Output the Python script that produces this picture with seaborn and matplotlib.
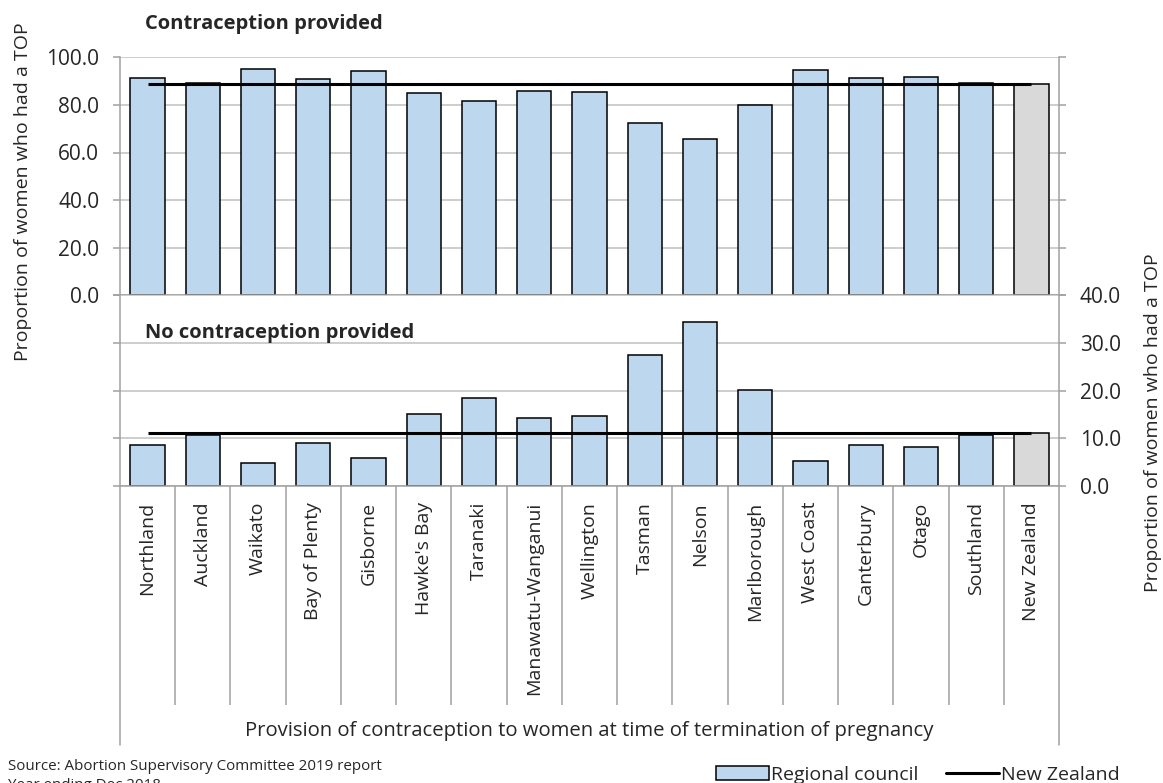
import numpy as np
import pandas as pd
import matplotlib
matplotlib.use("Agg")
import matplotlib.pyplot as plt
from matplotlib.patches import Patch
from matplotlib.lines import Line2D
import seaborn as sns

# Data
regions = ['Northland', 'Auckland', 'Waikato', 'Bay of Plenty', 'Gisborne',
           "Hawke's Bay", 'Taranaki', 'Manawatu-Wanganui', 'Wellington',
           'Tasman', 'Nelson', 'Marlborough', 'West Coast', 'Canterbury',
           'Otago', 'Southland', 'New Zealand']
provided = [91.3, 89.2, 95.1, 90.9, 94.1, 85.0, 81.6, 85.7, 85.3,
            72.5, 65.7, 79.8, 94.8, 91.3, 91.9, 89.2, 88.8]
not_provided = [8.7, 10.8, 4.9, 9.1, 5.9, 15.0, 18.4, 14.3, 14.7,
                27.5, 34.3, 20.2, 5.2, 8.7, 8.1, 10.8, 11.2]
nz_provided = 88.8
nz_not_provided = 11.2

sns.set_style("white")
plt.rcParams['font.family'] = ['Open Sans', 'DejaVu Sans']

BLUE = '#bdd7ee'
GREY_BAR = '#d9d9d9'
GRID = '#c0c0c0'
AXIS = '#a0a0a0'
bar_colors = [BLUE] * (len(regions) - 1) + [GREY_BAR]

df = pd.DataFrame({'region': regions, 'provided': provided,
                   'not_provided': not_provided})

W, H = 1163, 783
fig = plt.figure(figsize=(W / 100, H / 100), dpi=100)

def fx(px):
    return px / W

def fy(py):
    return 1 - py / H

left, right = 120, 1059
ax_top = fig.add_axes([fx(left), fy(295.3), fx(right - left), (295.3 - 57.3) / H])
ax_bot = fig.add_axes([fx(left), fy(486), fx(right - left), (486 - 295.3) / H])

n = len(regions)
pos = np.arange(n)

for ax, col, nzv in [(ax_top, 'provided', nz_provided),
                     (ax_bot, 'not_provided', nz_not_provided)]:
    sns.barplot(data=df, x='region', y=col, hue='region', palette=bar_colors,
                legend=False, saturation=1, width=0.62, edgecolor='black',
                linewidth=1.1, ax=ax, zorder=2)
    ax.plot(pos, [nzv] * n, color='black', lw=2.2, zorder=3,
            solid_capstyle='butt')
    ax.set_xlim(-0.5, n - 0.5)
    ax.set_xlabel('')
    ax.set_ylabel('')
    ax.yaxis.grid(True, color=GRID, lw=1.1)
    ax.xaxis.grid(False)
    ax.set_axisbelow(True)
    ax.spines['top'].set_visible(False)
    for s in ['left', 'right', 'bottom']:
        ax.spines[s].set_color(AXIS)
        ax.spines[s].set_linewidth(1.1)

# top panel
ax_top.set_ylim(0, 100)
ax_top.set_yticks(np.arange(0, 101, 20))
ax_top.set_yticklabels([f'{v:.1f}' for v in np.arange(0, 101, 20)])
ax_top.tick_params(axis='y', left=True, right=True, labelleft=True,
                   labelright=False, direction='out', length=5, width=1.1,
                   color=AXIS, labelsize=15, pad=10)
ax_top.set_xticks(pos)
ax_top.set_xticks(pos[:-1] + 0.5, minor=True)
ax_top.tick_params(axis='x', which='major', bottom=False, length=0,
                   labelbottom=False)
ax_top.tick_params(axis='x', which='minor', bottom=True, length=5.8,
                   width=1.1, color=AXIS, direction='out')

# bottom panel
ax_bot.set_ylim(0, 40)
ax_bot.set_yticks(np.arange(0, 41, 10))
ax_bot.set_yticklabels([f'{v:.1f}' for v in np.arange(0, 41, 10)])
ax_bot.tick_params(axis='y', left=True, right=True, labelleft=False,
                   labelright=True, direction='out', length=5, width=1.1,
                   color=AXIS, labelsize=15, pad=10)
ax_bot.set_xticks(pos)
ax_bot.set_xticklabels(regions, rotation=90, fontsize=14)
ax_bot.set_xticks(pos[:-1] + 0.5, minor=True)
ax_bot.tick_params(axis='x', which='major', bottom=False, length=0, pad=11.5)
ax_bot.tick_params(axis='x', which='minor', bottom=True, length=157.7,
                   width=1.1, color=AXIS, direction='out')
for xv in [-0.5, n - 0.5]:
    ax_bot.axvline(xv, ymin=-1.358, ymax=0, color=AXIS, lw=1.1,
                   clip_on=False)

# texts
fig.text(fx(145), fy(24), 'Contraception provided', fontsize=14.5,
         fontweight='bold', ha='left', va='center')
fig.text(fx(145), fy(333), 'No contraception provided', fontsize=14.5,
         fontweight='bold', ha='left', va='center')
fig.text(fx(23), fy(192), 'Proportion of women who had a TOP', fontsize=14,
         rotation=90, ha='center', va='center')
fig.text(fx(1153), fy(423), 'Proportion of women who had a TOP', fontsize=14,
         rotation=90, ha='center', va='center')
fig.text(fx(589.5), fy(731),
         'Provision of contraception to women at time of termination of pregnancy',
         fontsize=14.6, ha='center', va='center')
fig.text(fx(8), fy(766), 'Source: Abortion Supervisory Committee 2019 report',
         fontsize=10.9, ha='left', va='center')
fig.text(fx(8), fy(785), 'Year ending Dec 2018', fontsize=10.9,
         ha='left', va='center')

handles = [Patch(facecolor=BLUE, edgecolor='black', linewidth=1.1),
           Line2D([0], [0], color='black', lw=2.2)]
fig.legend(handles, ['Regional council', 'New Zealand'], ncol=2,
           loc='center left', bbox_to_anchor=(fx(716), fy(775)),
           frameon=False, fontsize=14, handlelength=2.7, handleheight=0.75,
           handletextpad=0.15, columnspacing=1.4, borderpad=0,
           borderaxespad=0)

fig.savefig('out.png', dpi=100)
